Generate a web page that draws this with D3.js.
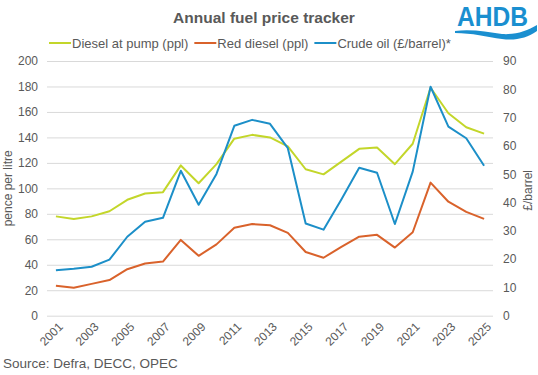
<!DOCTYPE html>
<html lang="en">
<head>
  <meta charset="utf-8">
  <title>Annual fuel price tracker</title>
  <script src="https://d3js.org/d3.v7.min.js"></script>
  <style>
    body { margin: 0; background: #fff; }
    svg { font-family: "Liberation Sans", Arial, sans-serif; }
  </style>
</head>
<body>
<svg id="chart" width="538" height="375"></svg>
<script>
  // years and series
  const years = d3.range(2001, 2026).map(String);
  const dieselPump = [78, 76, 78, 82, 91, 96, 97, 118, 104, 119, 139, 142, 140, 133, 115, 111, 121, 131, 132, 119, 135, 179, 159, 148, 143];
  const redDiesel = [23.5, 22, 25, 28, 36.5, 41, 42.5, 59.5, 47, 56, 69, 72, 71, 65, 50, 45.5, 54, 62, 63.5, 53.5, 65.5, 104.5, 89.5, 81.5, 76];
  const crudeOil = [16.1, 16.6, 17.3, 19.8, 27.9, 33.2, 34.6, 51.2, 39.2, 50.1, 67.1, 69.2, 67.8, 59.2, 32.6, 30.4, 41.1, 52.3, 50.5, 32.4, 50.9, 80.9, 66.8, 62.7, 53];
  const leftTicks = d3.range(0, 201, 20);
  const rightTicks = d3.range(0, 91, 10);

  const svg = d3.select("#chart");
  const margin = { left: 47, right: 45, top: 61, bottom: 60 };
  const width = 538, height = 375;
  const textCol = "#595959";

  const x = d3.scaleBand().domain(years).range([margin.left, width - margin.right]);
  const yL = d3.scaleLinear().domain([0, 200]).range([height - margin.bottom + 0.7, margin.top]);
  const yR = d3.scaleLinear().domain([0, 90]).range(yL.range());

  // gridlines
  svg.append("g")
    .attr("transform", `translate(${margin.left},0)`)
    .call(d3.axisLeft(yL).tickValues(leftTicks).tickSize(-(width - margin.left - margin.right)).tickFormat(""))
    .call(g => g.select(".domain").remove())
    .call(g => g.selectAll("line").attr("stroke", "#d9d9d9"));

  // left axis labels
  svg.append("g")
    .attr("transform", `translate(${margin.left},0)`)
    .call(d3.axisLeft(yL).tickValues(leftTicks).tickSize(0).tickPadding(9))
    .call(g => g.select(".domain").remove())
    .call(g => g.selectAll("text").attr("fill", textCol).attr("font-size", 12).attr("font-family", "Liberation Sans, Arial, sans-serif"));

  // right axis labels
  svg.append("g")
    .attr("transform", `translate(${width - margin.right},0)`)
    .call(d3.axisRight(yR).tickValues(rightTicks).tickSize(0).tickPadding(10))
    .call(g => g.select(".domain").remove())
    .call(g => g.selectAll("text").attr("fill", textCol).attr("font-size", 12).attr("font-family", "Liberation Sans, Arial, sans-serif"));

  // x axis: every other year, rotated
  svg.append("g")
    .attr("transform", `translate(0,${yL(0)})`)
    .call(d3.axisBottom(x).tickValues(years.filter((d, i) => i % 2 === 0)).tickSize(0).tickPadding(0))
    .call(g => g.select(".domain").remove())
    .call(g => g.selectAll("text")
      .attr("fill", textCol).attr("font-size", 12).attr("font-family", "Liberation Sans, Arial, sans-serif")
      .attr("text-anchor", "end").attr("dy", null).attr("y", 0)
      .attr("transform", "translate(5,9) rotate(-45)")
      .attr("dominant-baseline", "central"));

  // axis titles
  svg.append("text")
    .attr("transform", `translate(12,${(yL(0) + yL(200)) / 2}) rotate(-90)`)
    .attr("text-anchor", "middle").attr("fill", textCol).attr("font-size", 12)
    .text("pence per litre");
  svg.append("text")
    .attr("transform", `translate(532,${(yL(0) + yL(200)) / 2 + 2}) rotate(-90)`)
    .attr("text-anchor", "middle").attr("fill", textCol).attr("font-size", 12)
    .text("£/barrel");

  // lines
  const series = [
    { name: "Diesel at pump (ppl)", values: dieselPump, color: "#c3d62a", scale: yL },
    { name: "Red diesel (ppl)", values: redDiesel, color: "#d9622b", scale: yL },
    { name: "Crude oil (£/barrel)*", values: crudeOil, color: "#1c8fc8", scale: yR }
  ];
  series.forEach(s => {
    const line = d3.line()
      .x((d, i) => x(years[i]) + x.bandwidth() / 2)
      .y(d => s.scale(d));
    svg.append("path")
      .datum(s.values)
      .attr("fill", "none")
      .attr("stroke", s.color)
      .attr("stroke-width", 2)
      .attr("stroke-linejoin", "round")
      .attr("d", line);
  });

  // title
  svg.append("text")
    .attr("x", 264).attr("y", 23)
    .attr("text-anchor", "middle").attr("fill", textCol)
    .attr("font-size", 15.5).attr("font-weight", "bold")
    .text("Annual fuel price tracker");

  // legend
  const legend = svg.append("g").attr("transform", "translate(49,48)");
  let lx = 0;
  series.forEach(s => {
    const g = legend.append("g").attr("transform", `translate(${lx},0)`);
    g.append("line").attr("x1", 0).attr("x2", 22).attr("y1", -5).attr("y2", -5)
      .attr("stroke", s.color).attr("stroke-width", 2);
    const t = g.append("text").attr("x", 23).attr("y", 0)
      .attr("fill", textCol).attr("font-size", 13).text(s.name);
    lx += 23 + t.node().getComputedTextLength() + 6;
  });

  // AHDB logo
  const logo = svg.append("g").attr("transform", "translate(457,0)");
  logo.append("text")
    .attr("x", 0).attr("y", 25.5)
    .attr("fill", "#1a8fd0").attr("font-size", 28).attr("font-weight", "bold")
    .attr("font-family", "Liberation Sans, Arial, sans-serif")
    .attr("textLength", 71).attr("lengthAdjust", "spacingAndGlyphs")
    .text("AHDB");
  logo.append("path")
    .attr("fill", "#1a8fd0")
    .attr("d", "M-2,31 C15,29 30,32 45,34 C58,35 70,31 80,25 L80,31 C70,38 58,41 45,39 C30,37 15,33 -2,33 Z");

  // source
  svg.append("text")
    .attr("x", 3).attr("y", 368)
    .attr("fill", textCol).attr("font-size", 13.5)
    .text("Source: Defra, DECC, OPEC");
</script>
</body>
</html>
